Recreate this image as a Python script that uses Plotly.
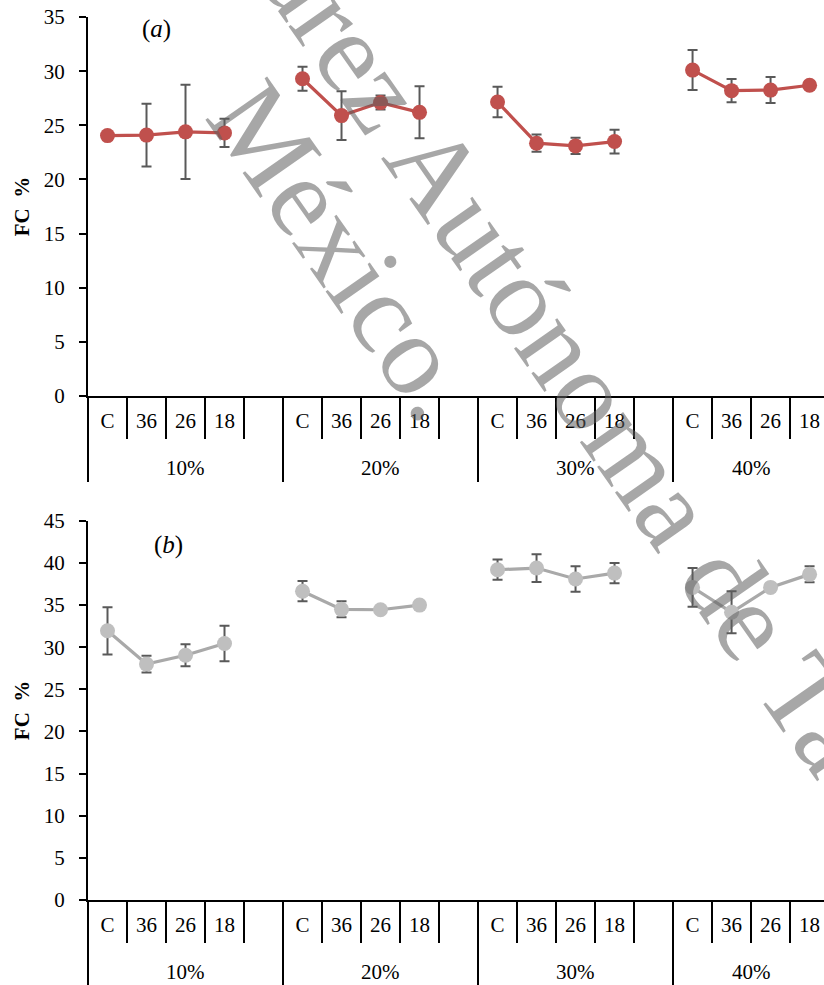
import plotly.graph_objects as go

# ---------------- data ----------------
groups = ["10%", "20%", "30%", "40%"]
subs = ["C", "36", "26", "18"]

fc_a = [[24.05, 24.1, 24.4, 24.3],
        [29.3, 25.9, 27.1, 26.2],
        [27.15, 23.35, 23.1, 23.5],
        [30.1, 28.2, 28.25, 28.7]]
err_a = [[0, 2.9, 4.35, 1.3],
         [1.1, 2.25, 0.65, 2.4],
         [1.4, 0.8, 0.75, 1.1],
         [1.85, 1.07, 1.2, 0]]

fc_b = [[31.95, 28.0, 29.05, 30.45],
        [36.65, 34.5, 34.45, 35.0],
        [39.2, 39.4, 38.1, 38.8],
        [37.1, 34.15, 37.1, 38.65]]
err_b = [[2.8, 1.0, 1.3, 2.1],
         [1.2, 0.95, 0.3, 0.5],
         [1.2, 1.65, 1.5, 1.2],
         [2.3, 2.5, 0, 0.95]]

y_title = "FC\u00a0 %"
panel_labels = ["(<i>a</i>)", "(<i>b</i>)"]
watermark_1 = "Universidad Juárez Autónoma de Tabasco."
watermark_2 = "México."

# ---------------- layout constants ----------------
SERIF = "Liberation Serif"
SLOTS = len(subs) + 1          # one empty slot after every group
X_MAX = 18.37                  # visible part of the category axis (chart is cropped on the right)
X_RANGE = [-0.5, X_MAX]


def build(values, errors):
    xs, ys, es = [], [], []
    for g, (vals, errs) in enumerate(zip(values, errors)):
        for i, (v, e) in enumerate(zip(vals, errs)):
            xs.append(g * SLOTS + i)
            ys.append(v)
            es.append(e)
        xs.append(g * SLOTS + len(subs))
        ys.append(None)
        es.append(None)
    return xs, ys, es


sub_vals = [g * SLOTS + i for g in range(len(groups)) for i in range(len(subs))]
sub_text = [s for _ in groups for s in subs]
inner_bounds = [g * SLOTS + i + 0.5 for g in range(len(groups)) for i in range(len(subs))]
group_bounds = [g * SLOTS - 0.5 for g in range(len(groups) + 1)]
group_centers = []
for g in range(len(groups)):
    vis = [g * SLOTS + i for i in range(SLOTS) if g * SLOTS + i <= X_MAX]
    group_centers.append(sum(vis) / len(vis))

fig = go.Figure()

panels = [
    dict(vals=fc_a, errs=err_a, line="#C0504D", marker="#C0504D", x="x", y="y", xo="x3"),
    dict(vals=fc_b, errs=err_b, line="#A9A9A9", marker="#BFBFBF", x="x2", y="y2", xo="x4"),
]

for p in panels:
    xs, ys, es = build(p["vals"], p["errs"])
    fig.add_trace(go.Scatter(
        x=xs, y=ys, xaxis=p["x"], yaxis=p["y"], mode="lines+markers",
        line=dict(color=p["line"], width=3.2),
        marker=dict(color=p["marker"], size=15),
        error_y=dict(type="data", array=es, visible=True, color="#595959",
                     thickness=2, width=5),
        connectgaps=False, showlegend=False, hoverinfo="skip",
    ))
    # invisible trace so that the overlay divider axis is drawn
    fig.add_trace(go.Scatter(x=[None], y=[None], xaxis=p["xo"], yaxis=p["y"],
                             showlegend=False, hoverinfo="skip"))

# plot area: x 88..824, panel a y 17..397, panel b y 522..902
M_L, M_T, M_B = 88, 17, 83
H = 985
plot_h = H - M_T - M_B


def py(px):
    return (H - M_B - px) / plot_h


def pxr(px):
    return (px - M_L) / (824 - M_L)


dom_a = [py(397), py(17)]
dom_b = [py(902), py(522)]

main_x = dict(
    range=X_RANGE, autorange=False, showgrid=False, zeroline=False,
    showline=True, linecolor="black", linewidth=2,
    tickmode="array", tickvals=sub_vals, ticktext=sub_text,
    ticks="", tickfont=dict(family=SERIF, size=21, color="black"),
    ticklabelstandoff=5,
    minor=dict(tickmode="array", tickvals=inner_bounds, ticks="outside",
               ticklen=41, tickwidth=2, tickcolor="black"),
)
div_x = dict(
    range=X_RANGE, autorange=False, showgrid=False, zeroline=False,
    showline=False, tickmode="array", tickvals=group_bounds,
    ticks="outside", ticklen=85, tickwidth=2, tickcolor="black",
    showticklabels=False, side="bottom",
)
y_common = dict(
    autorange=False, showgrid=False, zeroline=False,
    showline=True, linecolor="black", linewidth=2,
    ticks="outside", ticklen=7, tickwidth=2, tickcolor="black",
    tickfont=dict(family=SERIF, size=21, color="black"),
    ticklabelstandoff=10, dtick=5,
    title=dict(text=y_title, font=dict(family=SERIF, size=21, color="black", weight="bold"),
               standoff=8),
)

fig.update_layout(
    width=824, height=985,
    margin=dict(l=M_L, r=0, t=M_T, b=M_B),
    paper_bgcolor="white", plot_bgcolor="white",
    xaxis=dict(**main_x, anchor="y", domain=[0, 1]),
    xaxis3=dict(**div_x, anchor="y", overlaying="x"),
    yaxis=dict(**y_common, range=[0, 35], anchor="x", domain=dom_a),
    xaxis2=dict(**main_x, anchor="y2", domain=[0, 1]),
    xaxis4=dict(**div_x, anchor="y2", overlaying="x2"),
    yaxis2=dict(**y_common, range=[0, 45], anchor="x2", domain=dom_b),
)

annotations = []
# group labels under each panel
for xref, ypos in (("x", py(469)), ("x2", py(974))):
    for gx, gname in zip(group_centers, groups):
        annotations.append(dict(
            x=gx, y=ypos, xref=xref, yref="paper", text=gname, showarrow=False,
            xanchor="center", yanchor="middle",
            font=dict(family=SERIF, size=21, color="black")))

# panel letters
annotations.append(dict(x=(156 - 88) / 736, y=1 - (29 - 17) / 380, xref="x domain", yref="y domain",
                        text=panel_labels[0], showarrow=False, xanchor="center", yanchor="middle",
                        font=dict(family=SERIF, size=25, color="black")))
annotations.append(dict(x=(168 - 88) / 736, y=1 - (546 - 522) / 380, xref="x2 domain", yref="y2 domain",
                        text=panel_labels[1], showarrow=False, xanchor="center", yanchor="middle",
                        font=dict(family=SERIF, size=25, color="black")))

# watermark
wm_font = dict(family=SERIF, size=115, color="rgba(95,95,95,0.55)")
annotations.append(dict(x=pxr(454), y=py(196), xref="paper", yref="paper",
                        text=watermark_1, showarrow=False, textangle=55,
                        xanchor="center", yanchor="middle", font=wm_font))
annotations.append(dict(x=pxr(344), y=py(251), xref="paper", yref="paper",
                        text=watermark_2, showarrow=False, textangle=55,
                        xanchor="center", yanchor="middle", font=wm_font))

fig.update_layout(annotations=annotations)

fig.write_html("out.html")
